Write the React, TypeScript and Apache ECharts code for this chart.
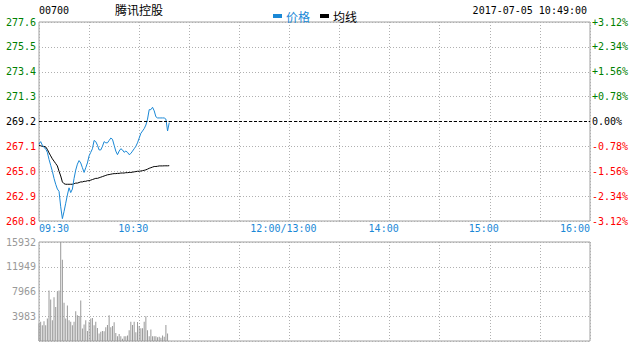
import React, { useEffect, useRef } from "react";
import * as echarts from "echarts";

// ---- data ----
const stockCode = "00700";
const stockName = "腾讯控股";
const timestamp = "2017-07-05 10:49:00";
const prevClose = 269.2;
const priceTicks = [260.8, 262.9, 265.0, 267.1, 269.2, 271.3, 273.4, 275.5, 277.6];
const pctMin = -3.12;
const pctMax = 3.12;
const pctStep = 0.78;
const volumeMax = 15932;
const volumeStep = 3983;
const timeTickMinutes = [0, 60, 150, 210, 270, 330];
const timeTickLabels = ["09:30", "10:30", "12:00/13:00", "14:00", "15:00", "16:00"];
const sessionMinutes = 330;

// one value per minute from 09:30
const prices = [
  267.3, 267.5, 267.2, 267.0, 266.9, 266.6, 266.0, 265.5, 265.0, 264.4,
  263.9, 263.5, 263.3, 262.0, 261.0, 261.6, 262.3, 263.0, 263.6, 263.2,
  263.5, 264.4, 265.1, 265.6, 265.9, 265.7, 265.3, 264.9, 265.3, 265.7,
  266.3, 266.6, 266.9, 267.6, 267.5, 267.2, 266.8, 266.8, 267.1, 267.5,
  267.4, 267.4, 267.6, 267.8, 267.7, 267.2, 266.7, 266.4, 266.7, 266.9,
  266.8, 266.6, 266.7, 266.6, 266.4, 266.5, 266.7, 266.9, 267.1, 267.4,
  267.8, 268.2, 268.4, 268.6, 268.9, 269.4, 270.2, 270.2, 270.4, 270.1,
  269.6, 269.5, 269.5, 269.5, 269.5, 269.5, 269.4, 268.4, 269.1,
];

const avgPrices = [
  267.2, 267.15, 267.1, 267.1, 267.05, 266.85, 266.55, 266.3, 266.05, 265.85,
  265.65, 265.45, 265.0, 264.6, 264.1, 263.95, 263.9, 263.9, 263.9, 263.9,
  263.9, 263.95, 264.0, 264.0, 264.05, 264.1, 264.1, 264.15, 264.15, 264.2,
  264.2, 264.25, 264.3, 264.35, 264.4, 264.4, 264.45, 264.5, 264.55, 264.6,
  264.65, 264.7, 264.72, 264.75, 264.78, 264.8, 264.8, 264.82, 264.82, 264.85,
  264.85, 264.85, 264.88, 264.88, 264.9, 264.9, 264.92, 264.95, 264.97, 265.0,
  265.0, 265.02, 265.05, 265.08, 265.12, 265.18, 265.25, 265.3, 265.35, 265.4,
  265.4, 265.42, 265.45, 265.45, 265.45, 265.46, 265.46, 265.46, 265.47,
];

const volumes = [
  2800, 3080, 2550, 3190, 2550, 3610, 8120, 6690, 3350, 7060,
  5470, 7960, 8120, 15932, 13060, 6160, 3610, 5730, 3350, 3080,
  2550, 3080, 4780, 4140, 4040, 6530, 2020, 2660, 3350, 1590,
  3080, 3610, 3720, 2550, 3080, 2100, 1220, 1490, 1590, 1550,
  2220, 2590, 4140, 2220, 2430, 3000, 1290, 780, 1140, 780,
  360, 780, 780, 900, 1710, 3100, 2590, 3100, 1400, 3050,
  2430, 2070, 2070, 3100, 3980, 1710, 780, 1860, 780, 780,
  780, 620, 670, 520, 880, 670, 2590, 1190,
];

// ---- styles ----
const BLUE = "#1a88d6";
const GREEN = "#008000";
const RED = "#ff0000";
const GRID_LINE = "#b0b0b0";
const FRAME = "#a0a0a0";
const MONO = "'DejaVu Sans Mono', monospace";
const CJK = "'Noto Sans CJK SC', sans-serif";

function signColor(v: number, ref: number) {
  if (Math.abs(v - ref) < 1e-6) return "#000";
  return v > ref ? GREEN : RED;
}

export default function App() {
  const ref = useRef<HTMLDivElement>(null);

  useEffect(() => {
    document.body.style.margin = "0";
    if (!ref.current) return;
    const chart = echarts.init(ref.current, undefined, { renderer: "svg" });

    const timeLabel = (v: number) => {
      const i = timeTickMinutes.indexOf(Math.round(v));
      if (i < 0) return "";
      const t = timeTickLabels[i];
      if (i === 0 || i === timeTickMinutes.length - 1) return t;
      return "{c|" + t + "}";
    };

    const option: any = {
      animation: false,
      textStyle: { fontFamily: MONO },
      grid: [
        { left: 39, right: 43, top: 22, height: 199, show: true, borderColor: FRAME, borderWidth: 1 },
        { left: 39, right: 43, top: 242, height: 99, show: true, borderColor: FRAME, borderWidth: 1 },
      ],
      legend: {
        left: 268,
        top: 5,
        icon: "rect",
        itemWidth: 9,
        itemHeight: 4,
        itemGap: 10,
        textStyle: { fontSize: 12, fontFamily: CJK, padding: [0, 0, 0, -1] },
        data: [
          { name: "价格", textStyle: { color: BLUE } },
          { name: "均线", textStyle: { color: "#000" } },
        ],
      },
      graphic: [
        { type: "text", left: 39, top: 5, style: { text: stockCode, fill: "#000", font: "10px " + MONO } },
        { type: "text", left: 115, top: 3, style: { text: stockName, fill: "#000", font: "12px " + CJK } },
        { type: "text", right: 46, top: 5, style: { text: timestamp, fill: "#000", font: "10px " + MONO } },
      ],
      xAxis: [
        {
          type: "value",
          gridIndex: 0,
          min: 0,
          max: sessionMinutes,
          interval: 30,
          axisLine: { show: false },
          axisTick: { show: false },
          splitLine: { show: true, lineStyle: { color: GRID_LINE, type: [1, 2], width: 1 } },
          axisLabel: {
            customValues: timeTickMinutes,
            formatter: timeLabel,
            color: BLUE,
            fontSize: 10,
            fontFamily: MONO,
            margin: 2,
            alignMinLabel: "left",
            alignMaxLabel: "right",
            rich: { c: { color: BLUE, fontSize: 10, fontFamily: MONO, padding: [0, 12, 0, 0] } },
          },
        },
        {
          type: "value",
          gridIndex: 1,
          min: 0,
          max: sessionMinutes,
          interval: 30,
          axisLine: { show: false },
          axisTick: { show: false },
          axisLabel: { show: false },
          splitLine: { show: true, lineStyle: { color: GRID_LINE, type: [1, 2], width: 1 } },
        },
      ],
      yAxis: [
        {
          type: "value",
          gridIndex: 0,
          position: "left",
          min: priceTicks[0],
          max: priceTicks[priceTicks.length - 1],
          axisLine: { show: false },
          axisTick: { show: false },
          splitLine: { show: false },
          axisLabel: {
            customValues: priceTicks,
            formatter: (v: number) => v.toFixed(1),
            color: (v: any) => signColor(Number(v), prevClose),
            fontSize: 10,
            fontFamily: MONO,
            margin: 3,
          },
        },
        {
          type: "value",
          gridIndex: 0,
          position: "right",
          min: pctMin,
          max: pctMax,
          interval: pctStep,
          axisLine: { show: false },
          axisTick: { show: false },
          splitLine: { show: true, lineStyle: { color: GRID_LINE, type: [1, 2], width: 1 } },
          axisLabel: {
            formatter: (v: number) => {
              if (Math.abs(v) < 1e-6) return "0.00%";
              return (v > 0 ? "+" : "") + v.toFixed(2) + "%";
            },
            color: (v: any) => signColor(Number(v), 0),
            fontSize: 10,
            fontFamily: MONO,
            margin: 2,
          },
        },
        {
          type: "value",
          gridIndex: 1,
          min: 0,
          max: volumeMax,
          interval: volumeStep,
          axisLine: { show: false },
          axisTick: { show: false },
          splitLine: { show: true, lineStyle: { color: GRID_LINE, type: [1, 2], width: 1 } },
          axisLabel: {
            formatter: (v: number) => (v === 0 ? "" : String(Math.round(v))),
            color: "#999",
            fontSize: 10,
            fontFamily: MONO,
            margin: 3,
          },
        },
      ],
      series: [
        {
          name: "价格",
          type: "line",
          xAxisIndex: 0,
          yAxisIndex: 0,
          data: prices.map((p, i) => [i, p]),
          symbol: "none",
          lineStyle: { color: BLUE, width: 1 },
          itemStyle: { color: BLUE },
          markLine: {
            silent: true,
            symbol: "none",
            label: { show: false },
            lineStyle: { color: "#000", type: [3, 2], width: 1 },
            data: [{ yAxis: prevClose }],
          },
          z: 3,
        },
        {
          name: "均线",
          type: "line",
          xAxisIndex: 0,
          yAxisIndex: 0,
          data: avgPrices.map((p, i) => [i, p]),
          symbol: "none",
          lineStyle: { color: "#000", width: 1 },
          itemStyle: { color: "#000" },
          z: 2,
        },
        {
          name: "成交量",
          type: "bar",
          xAxisIndex: 1,
          yAxisIndex: 2,
          data: volumes.map((v, i) => [i, v]),
          barWidth: 1,
          itemStyle: { color: "#999" },
        },
      ],
    };

    chart.setOption(option);
    return () => chart.dispose();
  }, []);

  return (
    <div
      ref={ref}
      style={{ position: "absolute", left: 0, top: 0, width: 633, height: 342, background: "#fff" }}
    />
  );
}
